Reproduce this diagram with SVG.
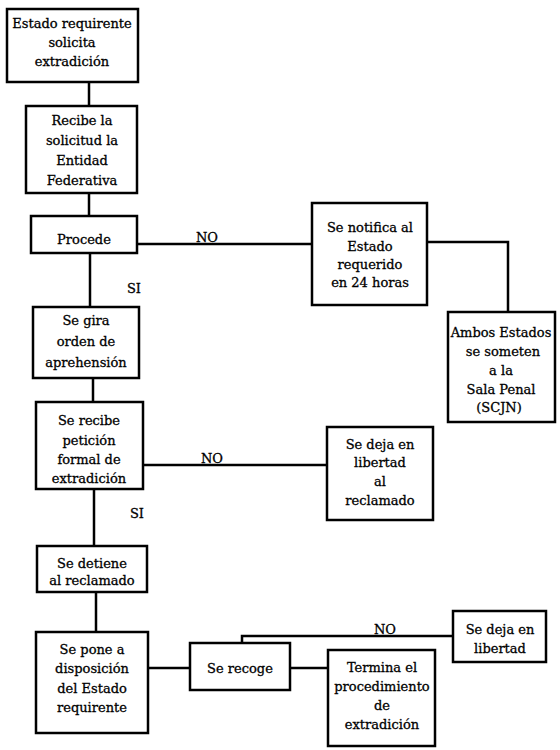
<svg xmlns="http://www.w3.org/2000/svg" width="560" height="750" viewBox="0 0 560 750">
<style>
.box{fill:#fff;stroke:#000;stroke-width:2.5}
.ln{fill:none;stroke:#000;stroke-width:2.5}
text{font-family:"DejaVu Serif","Liberation Serif",serif;font-size:13px;fill:#000;text-anchor:middle;stroke:#000;stroke-width:0.3}
</style>
<rect width="560" height="750" fill="#fff"/>
<g id="connectors">
<path class="ln" d="M89 82V106"/>
<path class="ln" d="M89 193V216"/>
<path class="ln" d="M90 253V307"/>
<path class="ln" d="M137 244H312"/>
<path class="ln" d="M427 242H508V312"/>
<path class="ln" d="M93 378V402"/>
<path class="ln" d="M143 465H327"/>
<path class="ln" d="M94 489V546"/>
<path class="ln" d="M96 592V632"/>
<path class="ln" d="M148 668H190"/>
<path class="ln" d="M290 668H328"/>
<path class="ln" d="M242 643V636H453"/>
<text x="207" y="242">NO</text>
<text x="134" y="293">SI</text>
<text x="212" y="463">NO</text>
<text x="137" y="518">SI</text>
<text x="385" y="634">NO</text>
</g>
<g id="n1"><rect class="box" x="7" y="9" width="131" height="73"/>
<text x="72" y="28">Estado requirente</text><text x="72" y="47">solicita</text><text x="72" y="66">extradición</text></g>
<g id="n2"><rect class="box" x="26" y="106" width="111" height="87"/>
<text x="82" y="125">Recibe la</text><text x="82" y="145">solicitud la</text><text x="82" y="165">Entidad</text><text x="82" y="185">Federativa</text></g>
<g id="n3"><rect class="box" x="31" y="216" width="106" height="37"/>
<text x="84" y="244">Procede</text></g>
<g id="n4"><rect class="box" x="312" y="203" width="115" height="102"/>
<text x="370" y="232">Se notifica al</text><text x="370" y="251">Estado</text><text x="370" y="269">requerido</text><text x="370" y="287">en 24 horas</text></g>
<g id="n5"><rect class="box" x="448" y="312" width="107" height="110"/>
<text x="501" y="337">Ambos Estados</text><text x="503" y="356">se someten</text><text x="501" y="375">a la</text><text x="501" y="394">Sala Penal</text><text x="499" y="412">(SCJN)</text></g>
<g id="n6"><rect class="box" x="33" y="307" width="106" height="71"/>
<text x="86" y="325">Se gira</text><text x="86" y="346">orden de</text><text x="86" y="367">aprehensión</text></g>
<g id="n7"><rect class="box" x="36" y="402" width="107" height="87"/>
<text x="89" y="425">Se recibe</text><text x="89" y="445">petición</text><text x="89" y="464">formal de</text><text x="89" y="483">extradición</text></g>
<g id="n8"><rect class="box" x="327" y="427" width="106" height="93"/>
<text x="380" y="449">Se deja en</text><text x="380" y="467">libertad</text><text x="380" y="486">al</text><text x="380" y="505">reclamado</text></g>
<g id="n9"><rect class="box" x="37" y="546" width="110" height="46"/>
<text x="92" y="568">Se detiene</text><text x="92" y="585">al reclamado</text></g>
<g id="n10"><rect class="box" x="36" y="632" width="112" height="101"/>
<text x="92" y="654">Se pone a</text><text x="92" y="673">disposición</text><text x="92" y="693">del Estado</text><text x="92" y="712">requirente</text></g>
<g id="n11"><rect class="box" x="190" y="643" width="100" height="47"/>
<text x="240" y="673">Se recoge</text></g>
<g id="n12"><rect class="box" x="453" y="611" width="93" height="51"/>
<text x="500" y="634">Se deja en</text><text x="500" y="653">libertad</text></g>
<g id="n13"><rect class="box" x="328" y="650" width="107" height="96"/>
<text x="382" y="672">Termina el</text><text x="382" y="691">procedimiento</text><text x="382" y="710">de</text><text x="382" y="729">extradición</text></g>
</svg>
